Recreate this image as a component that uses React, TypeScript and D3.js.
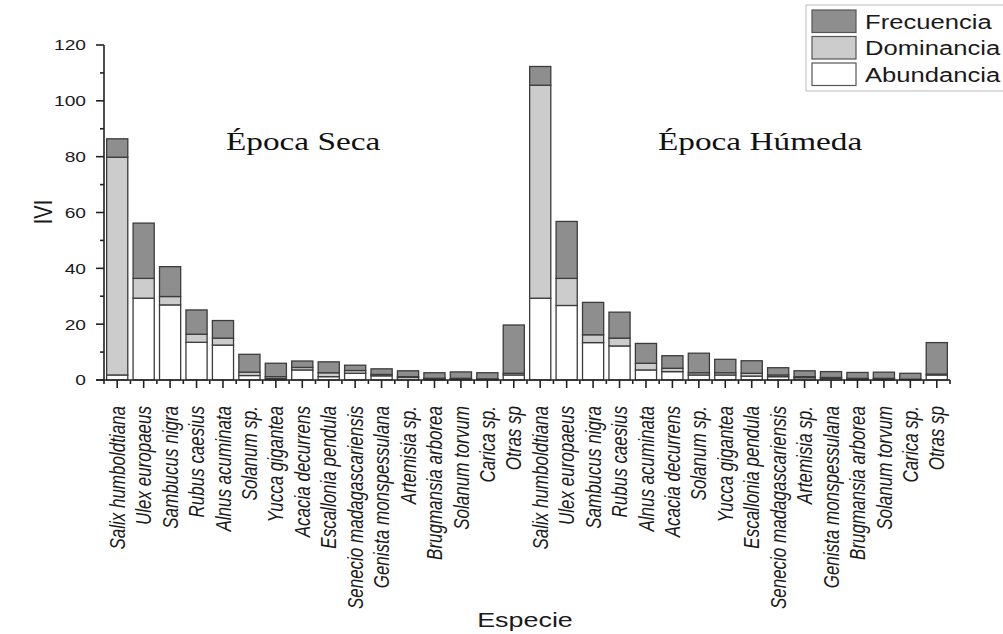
import * as d3 from "d3";

// --- data ---
const dryLabels = [
  "Salix humboldtiana", "Ulex europaeus", "Sambucus nigra", "Rubus caesius",
  "Alnus acuminata", "Solanum sp.", "Yucca gigantea", "Acacia decurrens",
  "Escallonia pendula", "Senecio madagascariensis", "Genista monspessulana",
  "Artemisia sp.", "Brugmansia arborea", "Solanum torvum", "Carica sp.", "Otras sp",
];
const wetLabels = [
  "Salix humboldtiana", "Ulex europaeus", "Sambucus nigra", "Rubus caesius",
  "Alnus acuminata", "Acacia decurrens", "Solanum sp.", "Yucca gigantea",
  "Escallonia pendula", "Senecio madagascariensis", "Artemisia sp.",
  "Genista monspessulana", "Brugmansia arborea", "Solanum torvum", "Carica sp.", "Otras sp",
];

const dryAbundancia = [1.8, 29.3, 26.9, 13.5, 12.5, 1.6, 0.5, 3.6, 1.2, 2.4, 1.5, 0.9, 0.4, 0.4, 0.3, 1.8];
const dryDominancia = [78.0, 7.1, 3.0, 2.9, 2.5, 1.2, 0.7, 0.9, 1.4, 1.0, 0.5, 0.3, 0.2, 0.2, 0.1, 0.6];
const dryFrecuencia = [6.6, 19.8, 10.7, 8.7, 6.3, 6.4, 4.8, 2.3, 3.9, 1.9, 2.0, 2.1, 2.0, 2.3, 2.2, 17.3];

const wetAbundancia = [29.3, 26.7, 13.4, 12.2, 3.6, 3.0, 1.8, 1.8, 1.4, 1.2, 0.8, 0.6, 0.4, 0.4, 0.2, 1.8];
const wetDominancia = [76.3, 9.7, 2.8, 2.8, 2.4, 1.2, 0.8, 0.8, 1.0, 0.6, 0.4, 0.3, 0.2, 0.2, 0.1, 0.3];
const wetFrecuencia = [6.7, 20.4, 11.6, 9.3, 7.1, 4.5, 7.0, 4.8, 4.5, 2.6, 2.1, 2.1, 2.1, 2.2, 2.1, 11.3];

const seriesNames = ["Abundancia", "Dominancia", "Frecuencia"];
const seriesColors = ["#ffffff", "#cccccc", "#8e8e8e"];
const yTicks = [0, 20, 40, 60, 80, 100, 120];
const yMinor = [10, 30, 50, 70, 90, 110];

const W = 1003;
const H = 634;
const SX = 1.28; // the reference is stretched horizontally
const sans = "'Liberation Sans', Arial, sans-serif";
const serif = "'Liberation Serif', 'Times New Roman', serif";

type Row = { key: string; label: string; Abundancia: number; Dominancia: number; Frecuencia: number };

const rows: Row[] = [
  ...dryLabels.map((l, i) => ({
    key: "s" + i, label: l,
    Abundancia: dryAbundancia[i], Dominancia: dryDominancia[i], Frecuencia: dryFrecuencia[i],
  })),
  ...wetLabels.map((l, i) => ({
    key: "h" + i, label: l,
    Abundancia: wetAbundancia[i], Dominancia: wetDominancia[i], Frecuencia: wetFrecuencia[i],
  })),
];

const x = d3.scaleBand<string>()
  .domain(rows.map((r) => r.key))
  .range([104, 950])
  .paddingInner(0.2)
  .paddingOuter(0.1);
const y = d3.scaleLinear().domain([0, 120]).range([380, 45]);
const stack = d3.stack<Row>().keys(seriesNames)(rows);

const Txt = ({ tx, ty, rot = 0, ...p }: any) => (
  <g transform={`translate(${tx},${ty}) scale(${SX},1)${rot ? ` rotate(${rot})` : ""}`}>
    <text {...p} />
  </g>
);

export default function App() {
  const step = x.step();
  const minorX = rows.map((r) => (x(r.key) as number) - step * 0.1).concat([950]);
  return (
    <svg width={W} height={H} style={{ position: "absolute", left: 0, top: 0, background: "#fff" }}>
      {/* bars */}
      {stack.map((s, si) => (
        <g key={s.key}>
          {s.map((d, i) => (
            <rect
              key={i}
              x={x(rows[i].key)}
              width={x.bandwidth()}
              y={y(d[1])}
              height={Math.max(0, y(d[0]) - y(d[1]))}
              fill={seriesColors[si]}
              stroke="#3c3c3c"
              strokeWidth={1.3}
            />
          ))}
        </g>
      ))}

      {/* axes */}
      <g stroke="#222" strokeWidth={1.6}>
        <line x1={104} x2={104} y1={y(120)} y2={y(0)} />
        <line x1={96} x2={950} y1={y(0)} y2={y(0)} />
        {yTicks.map((t) => (
          <line key={t} x1={96} x2={104} y1={y(t)} y2={y(t)} />
        ))}
        {yMinor.map((t) => (
          <line key={t} x1={100} x2={104} y1={y(t)} y2={y(t)} />
        ))}
        {rows.map((r) => {
          const cx = (x(r.key) as number) + x.bandwidth() / 2;
          return <line key={r.key} x1={cx} x2={cx} y1={y(0)} y2={y(0) + 8} />;
        })}
        {minorX.map((mx, i) => (
          <line key={i} x1={mx} x2={mx} y1={y(0)} y2={y(0) + 4} />
        ))}
      </g>

      {/* y tick labels */}
      {yTicks.map((t) => (
        <Txt key={t} tx={86} ty={y(t)} dy="0.36em" textAnchor="end"
          fontFamily={sans} fontSize={15} fill="#1a1a1a">{t}</Txt>
      ))}

      {/* category labels */}
      {rows.map((r) => (
        <Txt key={r.key} tx={(x(r.key) as number) + x.bandwidth() / 2} ty={406} rot={-90}
          dy="0.35em" textAnchor="end" fontFamily={sans} fontStyle="italic" fontSize={17} fill="#1a1a1a">
          {r.label}
        </Txt>
      ))}

      {/* axis titles */}
      <Txt tx={43} ty={212} rot={-90} dy="0.35em" textAnchor="middle"
        fontFamily={sans} fontSize={20} fill="#1a1a1a">IVI</Txt>
      <Txt tx={525} ty={627} textAnchor="middle" fontFamily={sans} fontSize={21} fill="#1a1a1a">Especie</Txt>

      {/* season titles */}
      <Txt tx={226} ty={150} fontFamily={serif} fontSize={26} fill="#111">Época Seca</Txt>
      <Txt tx={658} ty={150} fontFamily={serif} fontSize={26} fill="#111">Época Húmeda</Txt>

      {/* legend */}
      <rect x={806} y={5} width={210} height={86} fill="#fff" stroke="#bbb" strokeWidth={1} />
      {[2, 1, 0].map((si, k) => (
        <g key={si}>
          <rect x={812} y={10 + k * 26.5} width={44} height={22.5}
            fill={seriesColors[si]} stroke="#555" strokeWidth={1.2} />
          <Txt tx={865} ty={28.5 + k * 26.7} fontFamily={sans} fontSize={20} fill="#1a1a1a">
            {seriesNames[si]}
          </Txt>
        </g>
      ))}
    </svg>
  );
}
